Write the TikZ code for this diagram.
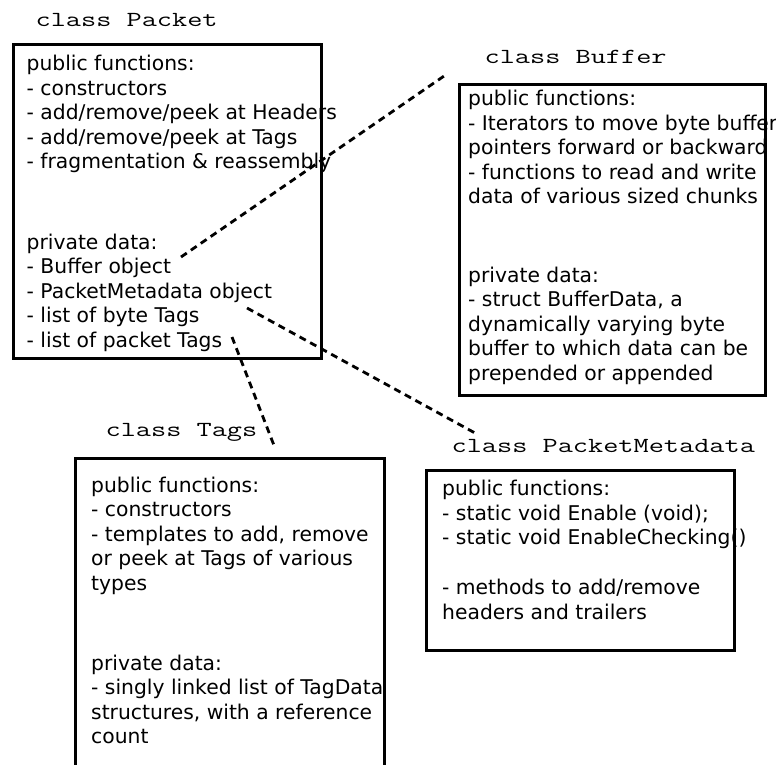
\documentclass[tikz,border=0pt]{standalone}
\usepackage{fontspec}
\usepackage{graphicx}
\setmainfont{DejaVu Sans}
\newcommand\textlines[4]{\foreach \t [count=\i] in {#4} {\node[txt] (#1\i) at (#2,{#3+(\i-1)*24.5}) {\t};}}
\newcommand\widemono[1]{\scalebox{1.37}[1]{#1}}
\begin{document}
\begin{tikzpicture}[x=1pt,y=-1pt,
  txt/.style={anchor=base west, inner sep=0pt, font=\fontsize{20.3}{24}\selectfont},
  ttl/.style={anchor=base west, inner sep=0pt, font=\ttfamily\fontsize{21.5}{26}\selectfont},
  box/.style={draw, line width=2.8pt, anchor=north west, inner sep=0pt},
  link/.style={line width=2.8pt, dash pattern=on 7pt off 5pt}]
\useasboundingbox[fill=white] (0,0) rectangle (776,764);

% boxes
\node[box, minimum width=308pt, minimum height=314pt] (pkbox) at (12,43) {};
\node[box, minimum width=306pt, minimum height=311pt] (bfbox) at (458,83) {};
\node[box, minimum width=308pt, minimum height=180pt] (pmbox) at (425,469) {};
\node[box, minimum width=309pt, minimum height=340pt] (tgbox) at (74,457) {};

% titles
\node[ttl] (tpk) at (35.4,26.5) {\widemono{class Packet}};
\node[ttl] (tbf) at (484.4,63) {\widemono{class Buffer}};
\node[ttl] (ttg) at (105.4,436) {\widemono{class Tags}};
\node[ttl] (tpm) at (451.4,452) {\widemono{class PacketMetadata}};

% Packet
\textlines{pkpub}{26.5}{70.5}{public functions:, - constructors, - add/remove/peek at Headers, - add/remove/peek at Tags, - fragmentation \& reassembly}
\textlines{pkpriv}{26.5}{249}{private data:, - Buffer object, - PacketMetadata object, - list of byte Tags, - list of packet Tags}

% Buffer
\textlines{bfpub}{468}{105.5}{public functions:, - Iterators to move byte buffer, pointers forward or backward, - functions to read and write, data of various sized chunks}
\textlines{bfpriv}{468}{282}{private data:, {- struct BufferData, a}, dynamically varying byte, buffer to which data can be, prepended or appended}

% Tags
\textlines{tgpub}{91}{492}{public functions:, - constructors, {- templates to add, remove}, or peek at Tags of various, types}
\textlines{tgpriv}{91}{670}{private data:, - singly linked list of TagData, {structures, with a reference}, count}

% PacketMetadata
\textlines{pmpub}{442}{495.5}{public functions:, - static void Enable (void);, - static void EnableChecking()}
\textlines{pmmeth}{442}{594.5}{- methods to add/remove, headers and trailers}

% connectors
\coordinate (c1a) at (181,257); \coordinate (c1b) at (447,74);
\coordinate (c2a) at (247,308); \coordinate (c2b) at (475,433);
\coordinate (c3a) at (232,337); \coordinate (c3b) at (275,448);
\draw[link] (c1a) -- (c1b);
\draw[link] (c2a) -- (c2b);
\draw[link] (c3a) -- (c3b);
\end{tikzpicture}
\end{document}
